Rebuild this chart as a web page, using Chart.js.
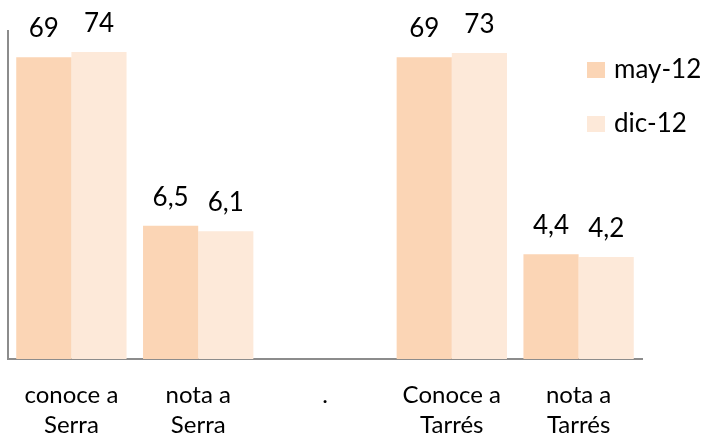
<!DOCTYPE html>
<html>
<head>
<meta charset="utf-8">
<script src="https://cdn.jsdelivr.net/npm/chart.js@4.4.0/dist/chart.umd.min.js"></script>
<style>
  html, body { margin: 0; padding: 0; background: #fff; }
  #wrap { width: 713px; height: 438px; }
</style>
</head>
<body>
<div id="wrap"><canvas id="chart"></canvas></div>
<script>
var categories = [['conoce a', 'Serra'], ['nota a', 'Serra'], '.', ['Conoce a', 'Tarrés'], ['nota a', 'Tarrés']];
var seriesNames = ['may-12', 'dic-12'];

// "conoce" values, left axis
var conoceMay = [69, null, null, 69, null];
var conoceDic = [74, null, null, 73, null];
// "nota" values, second (hidden) axis
var notaMay = [null, 6.5, null, null, 4.4];
var notaDic = [null, 6.1, null, null, 4.2];

var colors = ['#FBD5B5', '#FDE9D9'];

// axis ranges
var leftMin = -218, leftMax = 94;
var rightMin = -3.35, rightMax = 20.9;

var FONT = 'Lato';

// value labels above each bar
var valueLabels = {
  id: 'valueLabels',
  afterDatasetsDraw: function (chart) {
    var ctx = chart.ctx;
    ctx.save();
    ctx.font = '26px ' + FONT;
    ctx.fillStyle = '#000';
    ctx.textAlign = 'center';
    ctx.textBaseline = 'alphabetic';
    chart.data.datasets.forEach(function (ds, i) {
      var meta = chart.getDatasetMeta(i);
      meta.data.forEach(function (bar, j) {
        var v = ds.data[j];
        if (v === null || v === undefined) return;
        ctx.fillText(String(v).replace('.', ','), bar.x, bar.y - 20);
      });
    });
    ctx.restore();
  }
};

// legend drawn over the plot, like the original
var sideLegend = {
  id: 'sideLegend',
  afterDraw: function (chart) {
    var ctx = chart.ctx;
    ctx.save();
    ctx.font = '26px ' + FONT;
    ctx.textBaseline = 'middle';
    ctx.textAlign = 'left';
    seriesNames.forEach(function (name, i) {
      var y = 70 + i * 54;
      ctx.fillStyle = colors[i];
      ctx.fillRect(587, y - 8, 18, 16);
      ctx.fillStyle = '#000';
      ctx.fillText(name, 614, y);
    });
    ctx.restore();
  }
};

var ctx = document.getElementById('chart').getContext('2d');
var chart = new Chart(ctx, {
  type: 'bar',
  data: {
    labels: categories,
    datasets: [
      { label: seriesNames[0], data: conoceMay, backgroundColor: colors[0], yAxisID: 'y', stack: 'may', base: leftMin },
      { label: seriesNames[1], data: conoceDic, backgroundColor: colors[1], yAxisID: 'y', stack: 'dic', base: leftMin },
      { label: seriesNames[0], data: notaMay, backgroundColor: colors[0], yAxisID: 'y2', stack: 'may', base: rightMin },
      { label: seriesNames[1], data: notaDic, backgroundColor: colors[1], yAxisID: 'y2', stack: 'dic', base: rightMin }
    ]
  },
  options: {
    responsive: true,
    maintainAspectRatio: false,
    animation: false,
    barPercentage: 1,
    categoryPercentage: 0.87,
    layout: { padding: { left: 0, right: 71, top: 31, bottom: -15 } },
    plugins: {
      legend: { display: false },
      tooltip: { enabled: false }
    },
    scales: {
      x: {
        grid: { display: false },
        border: { display: true, color: '#8c8c8c', width: 2 },
        ticks: {
          color: '#000',
          font: { family: FONT, size: 24, lineHeight: 1.25 },
          padding: 13,
          maxRotation: 0,
          autoSkip: false
        }
      },
      y: {
        min: leftMin,
        max: leftMax,
        stacked: false,
        grid: { display: false },
        border: { display: true, color: '#8c8c8c', width: 2 },
        ticks: { display: false }
      },
      y2: {
        min: rightMin,
        max: rightMax,
        stacked: false,
        display: false,
        position: 'right'
      }
    }
  },
  plugins: [valueLabels, sideLegend]
});
</script>
</body>
</html>
